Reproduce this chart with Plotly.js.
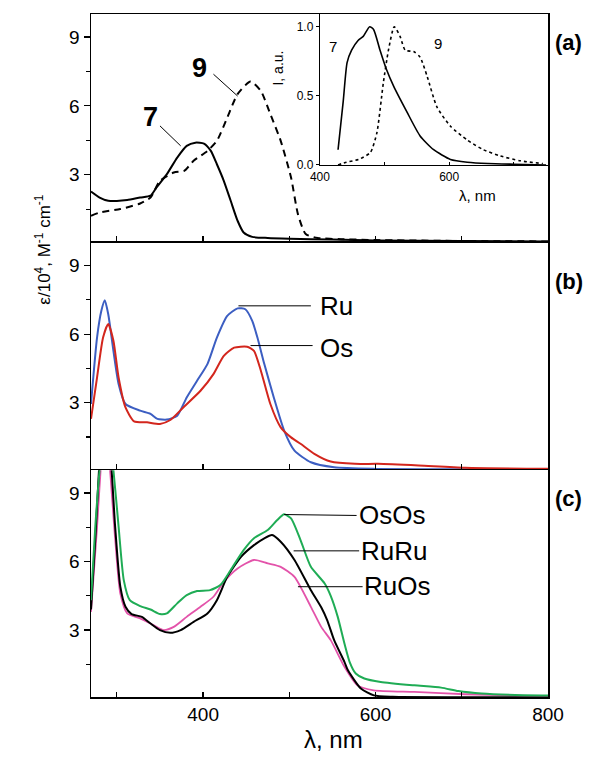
<!DOCTYPE html>
<html>
<head>
<meta charset="utf-8">
<script src="https://cdn.plot.ly/plotly-3.0.1.min.js"></script>
<style>html,body{margin:0;padding:0;background:#fff;}#chart{width:589px;height:770px;}</style>
</head>
<body>
<div id="chart"></div>
<script>
// ---------- Panel (a): absorption of 7 and 9 ----------
const lam7 = [270,280,290,300,312,327,339,346,358,370,381,391,401,409,416,424,432,440,447,457,475,500,550,600,700,800];
const eps7 = [2.27,2.01,1.87,1.86,1.90,2.01,2.09,2.45,3.03,3.75,4.26,4.40,4.36,4.04,3.46,2.74,1.87,1.00,0.49,0.30,0.25,0.22,0.18,0.14,0.12,0.10];
const lam9 = [270,280,304,327,339,350,366,378,389,405,416,428,440,455,467,478,490,502,510,519,533,560,600,700,800];
const eps9 = [1.22,1.36,1.51,1.75,2.01,2.74,3.10,3.17,3.61,4.04,4.48,5.49,6.51,7.06,6.65,5.64,4.48,2.88,1.29,0.42,0.25,0.20,0.16,0.12,0.10];

// ---------- Inset: emission of 7 and 9 ----------
const lamI7 = [428,436,442,449,459,467,477,483,493,503,514,535,555,576,602,628,660,700,750];
const int7  = [0.11,0.46,0.74,0.83,0.90,0.93,1.00,0.98,0.83,0.69,0.57,0.38,0.21,0.11,0.04,0.02,0.01,0.005,0.0];
const lamI9 = [428,441,460,478,488,498,506,515,524,532,545,555,566,581,602,628,653,679,710,745];
const int9  = [0.0,0.02,0.04,0.09,0.23,0.59,0.83,1.00,0.93,0.83,0.82,0.78,0.64,0.42,0.28,0.18,0.11,0.065,0.03,0.01];

// ---------- Panel (b): Ru and Os ----------
const lamRu = [270,277,282,286,290,296,302,310,327,339,347,358,370,381,393,405,416,428,440,449,457,463,471,482,494,506,525,552,600,700,800];
const epsRu = [2.94,5.85,7.02,7.48,6.87,5.27,3.82,2.94,2.65,2.51,2.29,2.26,2.43,3.23,3.96,4.69,5.85,6.80,7.13,7.09,6.58,5.85,4.69,3.23,1.78,0.90,0.39,0.17,0.10,0.08,0.08];
const lamOs = [270,277,284,290,296,302,310,320,335,350,362,377,397,412,424,436,451,459,467,478,490,502,513,529,548,576,603,650,704,800];
const epsOs = [2.29,4.10,5.85,6.44,5.71,4.10,2.79,2.18,2.14,2.07,2.24,2.79,3.52,4.25,5.05,5.41,5.45,5.27,4.40,2.94,1.92,1.48,1.20,0.76,0.42,0.32,0.32,0.25,0.15,0.10];

// ---------- Panel (c): OsOs, RuRu, RuOs ----------
const lamOsOs = [270,275,280,288,296,302,308,315,327,339,350,358,370,381,393,408,420,432,447,459,475,486,494,502,513,525,541,548,556,564,570,577,587,606,645,676,696,723,762,800];
const epsOsOs = [4.31,7.53,10.0,12.5,10.0,7.53,5.19,4.31,4.05,3.90,3.70,3.73,4.17,4.53,4.71,4.75,4.97,5.63,6.50,7.02,7.38,7.82,8.07,7.89,6.94,5.77,5.04,4.50,3.60,2.40,1.60,1.10,0.88,0.73,0.58,0.48,0.33,0.22,0.16,0.14];
const lamRuRu = [270,275,281,286,292,298,304,310,317,329,339,350,362,374,389,405,416,428,444,459,471,480,490,506,525,537,544,552,564,568,583,598,620,700,800];
const epsRuRu = [3.90,7.00,11.0,12.5,11.0,7.53,4.90,4.02,3.70,3.58,3.29,3.00,2.88,3.00,3.36,3.73,4.31,5.33,6.21,6.72,7.02,7.16,6.87,6.07,4.75,4.00,3.43,2.56,1.60,1.24,0.44,0.14,0.08,0.06,0.05];
const lamRuOs = [270,277,282,286,291,298,304,312,327,339,354,366,381,397,412,424,440,459,475,490,506,525,537,548,564,579,598,645,704,800];
const epsRuOs = [3.80,7.50,10.5,12.0,10.5,7.00,4.60,3.73,3.51,3.29,3.00,3.14,3.58,4.02,4.46,5.11,5.70,6.07,5.92,5.77,5.33,4.02,3.14,2.56,1.39,0.58,0.36,0.29,0.19,0.10];

// ---------- Text ----------
const panelLabels = ['(a)','(b)','(c)'];
const yTickVals = [3,6,9];
const xTickVals = [400,600,800];
const insetXTicks = [400,600];
const insetYTicks = [0,0.5,1.0];

const FONT = 'Arial, "Liberation Sans", sans-serif';
const BLUE = '#3c5ec2', RED = '#d3261d', GREEN = '#1fac55', PINK = '#e353aa';

function line(x, y, xa, ya, color, width, dash) {
  return {x: x, y: y, xaxis: xa, yaxis: ya, type: 'scatter', mode: 'lines',
          line: {color: color, width: width, dash: dash || 'solid', shape: 'spline', smoothing: 0.6},
          hoverinfo: 'skip', showlegend: false};
}

const data = [
  line(lam7, eps7, 'x3', 'y3', '#000', 2),
  line(lam9, eps9, 'x3', 'y3', '#000', 2, '7px,5px'),
  line(lamI7, int7, 'x4', 'y4', '#000', 1.6),
  line(lamI9, int9, 'x4', 'y4', '#000', 1.6, '3px,3px'),
  line(lamRu, epsRu, 'x2', 'y2', BLUE, 2),
  line(lamOs, epsOs, 'x2', 'y2', RED, 2),
  line(lamRuOs, epsRuOs, 'x', 'y', PINK, 1.8),
  line(lamRuRu, epsRuRu, 'x', 'y', '#000', 2),
  line(lamOsOs, epsOsOs, 'x', 'y', GREEN, 2)
];

function xax(showLabels) {
  return {range: [270, 800], showline: true, mirror: true, linecolor: '#000', linewidth: 1.5,
          ticks: 'inside', ticklen: 5, tickwidth: 1.2, tickcolor: '#000',
          tickvals: xTickVals, showticklabels: showLabels, zeroline: false, showgrid: false,
          tickfont: {family: FONT, size: 19, color: '#000'},
          minor: {tickvals: [300,500,700], ticks: 'inside', ticklen: 5, tickwidth: 1.2, tickcolor: '#000'}};
}
function yax(dom, lo) {
  return {domain: dom, range: [lo, 10], showline: true, mirror: true, linecolor: '#000', linewidth: 1.5,
          ticks: 'outside', ticklen: 6, tickwidth: 1.2, tickcolor: '#000',
          tickvals: yTickVals, zeroline: false, showgrid: false,
          tickfont: {family: FONT, size: 19, color: '#000'},
          minor: {tickvals: [1.5,4.5,7.5], ticks: 'outside', ticklen: 4, tickwidth: 1.2, tickcolor: '#000'}};
}

const layout = {
  width: 589, height: 770,
  margin: {l: 91, r: 41, t: 14, b: 73},
  paper_bgcolor: '#fff', plot_bgcolor: 'rgba(0,0,0,0)',
  showlegend: false,
  font: {family: FONT, color: '#000'},
  xaxis: Object.assign(xax(true), {anchor: 'y'}),
  xaxis2: Object.assign(xax(false), {anchor: 'y2'}),
  xaxis3: Object.assign(xax(false), {anchor: 'y3'}),
  yaxis: Object.assign(yax([0, 0.332], 0.07), {anchor: 'x'}),
  yaxis2: Object.assign(yax([0.334, 0.665], 0.1), {anchor: 'x2'}),
  yaxis3: Object.assign(yax([0.667, 1], 0.1), {anchor: 'x3'}),
  xaxis4: {domain: [0.501, 1], anchor: 'y4', range: [400, 753], showline: true, mirror: false,
           linecolor: '#000', linewidth: 1.2, ticks: 'inside', ticklen: 3, tickwidth: 1, tickcolor: '#000',
           tickvals: insetXTicks, zeroline: false, showgrid: false,
           tickfont: {family: FONT, size: 12, color: '#000'},
           minor: {tickvals: [500,700], ticks: 'inside', ticklen: 3, tickwidth: 1, tickcolor: '#000'}},
  yaxis4: {domain: [0.779, 1], anchor: 'x4', range: [0, 1.092], showline: true, mirror: false,
           linecolor: '#000', linewidth: 1.2, ticks: 'outside', ticklen: 3, tickwidth: 1, tickcolor: '#000',
           tickvals: insetYTicks, tickformat: '.1f', zeroline: false, showgrid: false,
           tickfont: {family: FONT, size: 12, color: '#000'}},
  shapes: [
    {type: 'line', xref: 'x3', yref: 'y3', x0: 350, y0: 5.13, x1: 374, y1: 4.26, line: {color: '#000', width: 1}},
    {type: 'line', xref: 'x3', yref: 'y3', x0: 412, y0: 7.38, x1: 440, y1: 6.43, line: {color: '#000', width: 1}},
    {type: 'line', xref: 'x2', yref: 'y2', x0: 441, y0: 7.24, x1: 525, y1: 7.24, line: {color: '#000', width: 1}},
    {type: 'line', xref: 'x2', yref: 'y2', x0: 455, y0: 5.50, x1: 527, y1: 5.50, line: {color: '#000', width: 1}},
    {type: 'line', xref: 'x', yref: 'y', x0: 494, y0: 8.06, x1: 578, y1: 8.02, line: {color: '#000', width: 1}},
    {type: 'line', xref: 'x', yref: 'y', x0: 505, y0: 6.47, x1: 581, y1: 6.47, line: {color: '#000', width: 1}},
    {type: 'line', xref: 'x', yref: 'y', x0: 510, y0: 4.90, x1: 585, y1: 4.90, line: {color: '#000', width: 1}}
  ],
  annotations: [
    {xref: 'x3', yref: 'y3', x: 339, y: 5.5, text: '<b>7</b>', showarrow: false, font: {size: 27}},
    {xref: 'x3', yref: 'y3', x: 396, y: 7.65, text: '<b>9</b>', showarrow: false, font: {size: 27}},
    {xref: 'x4', yref: 'y4', x: 420, y: 0.86, text: '7', showarrow: false, font: {size: 15}},
    {xref: 'x4', yref: 'y4', x: 583, y: 0.88, text: '9', showarrow: false, font: {size: 15}},
    {xref: 'paper', yref: 'paper', x: 0.409, y: 0.950, text: 'I, a.u.', textangle: -90, showarrow: false, font: {size: 14}},
    {xref: 'paper', yref: 'paper', x: 0.891, y: 0.7496, text: 'λ, nm', showarrow: false, font: {size: 15}},
    {xref: 'x2', yref: 'y2', x: 533, y: 7.24, xanchor: 'left', text: 'Ru', showarrow: false, font: {size: 26}},
    {xref: 'x2', yref: 'y2', x: 533, y: 5.41, xanchor: 'left', text: 'Os', showarrow: false, font: {size: 26}},
    {xref: 'x', yref: 'y', x: 578, y: 8.04, xanchor: 'left', text: 'OsOs', showarrow: false, font: {size: 26}},
    {xref: 'x', yref: 'y', x: 581, y: 6.47, xanchor: 'left', text: 'RuRu', showarrow: false, font: {size: 26}},
    {xref: 'x', yref: 'y', x: 584, y: 4.93, xanchor: 'left', text: 'RuOs', showarrow: false, font: {size: 26}},
    {xref: 'paper', yref: 'paper', x: 1.012, y: 0.979, xanchor: 'left', text: '<b>' + panelLabels[0] + '</b>', showarrow: false, font: {size: 22}},
    {xref: 'paper', yref: 'paper', x: 1.012, y: 0.608, xanchor: 'left', text: '<b>' + panelLabels[1] + '</b>', showarrow: false, font: {size: 22}},
    {xref: 'paper', yref: 'paper', x: 1.012, y: 0.270, xanchor: 'left', text: '<b>' + panelLabels[2] + '</b>', showarrow: false, font: {size: 22}},
    {xref: 'paper', yref: 'paper', x: -0.1335, y: 0.655, text: 'ε/10<sup>4</sup>, M<sup>-1</sup> cm<sup>-1</sup>', textangle: -90, showarrow: false, font: {size: 17}},
    {xref: 'paper', yref: 'paper', x: 0.53, y: -0.085, text: 'λ, nm', showarrow: false, font: {size: 24}}
  ]
};

Plotly.newPlot('chart', data, layout, {staticPlot: true, displayModeBar: false});
</script>
</body>
</html>
